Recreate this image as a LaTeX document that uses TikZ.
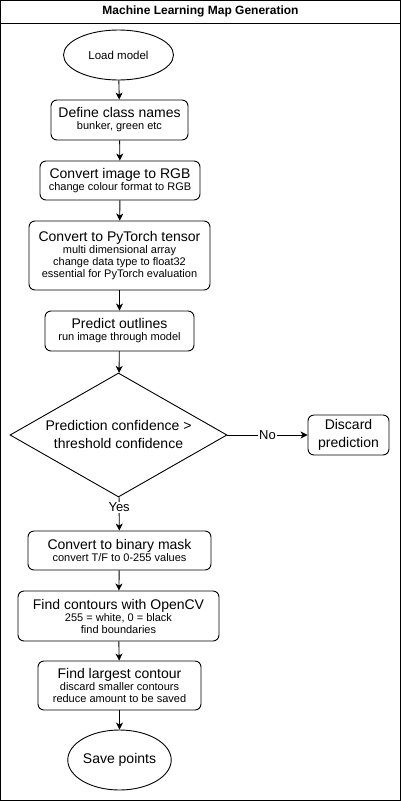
\documentclass[tikz,border=0pt]{standalone}
\usepackage{fontspec}
\setmainfont{Liberation Sans}
\usetikzlibrary{shapes.geometric,arrows.meta}
\newcommand{\hd}[1]{{\fontsize{14}{17}\selectfont #1}}
\newcommand{\sbt}{\fontsize{11}{14}\selectfont}
\begin{document}
\begin{tikzpicture}[x=1pt,y=-1pt,
  box/.style={draw,rounded corners=6pt,line width=0.9pt,align=center,inner sep=0pt},
  oval/.style={draw,ellipse,line width=0.9pt,align=center,inner sep=0pt},
  arr/.style={draw,line width=0.9pt,-{Stealth[length=7pt,width=7pt,inset=2pt]}},
  lbl/.style={fill=white,inner sep=1pt,font=\fontsize{13}{15}\selectfont}]
\useasboundingbox (0,0) rectangle (401,801);
\node[draw,line width=0.9pt,minimum width=400,minimum height=800,inner sep=0] (frame) at (200.5,400.5) {};
\draw[line width=0.9pt] (frame.north west |- 0,23) -- (frame.north east |- 0,23);
\node[font=\bfseries\fontsize{12}{14}\selectfont] (title) at (200.5,11.5) {Machine Learning Map Generation};

\node[oval,minimum width=110,minimum height=50,font=\fontsize{11.5}{14}\selectfont] (load) at (118.5,55) {Load model};
\node[box,minimum width=137,minimum height=40] (define) at (119.5,120) {\hd{Define class names}\\\sbt bunker, green etc};
\node[box,minimum width=160,minimum height=39] (rgb) at (120,180.5) {\hd{Convert image to RGB}\\\sbt change colour format to RGB};
\node[box,minimum width=181,minimum height=69] (torch) at (119.5,255.5) {\hd{Convert to PyTorch tensor}\\\sbt multi dimensional array\\\sbt change data type to float32\\\sbt essential for PyTorch evaluation};
\node[box,minimum width=149,minimum height=40] (predict) at (119.5,331) {\hd{Predict outlines}\\\sbt run image through model};
\node[draw,diamond,line width=0.9pt,minimum width=217,minimum height=124,inner sep=0] (decision) at (118.5,435) {};
\node[align=center,font=\fontsize{14}{18}\selectfont] (dtext) at (118.5,434) {Prediction confidence >\\threshold confidence};
\node[box,minimum width=81,minimum height=40,font=\fontsize{14}{18}\selectfont] (discard) at (348.5,435) {Discard\\prediction};
\node[box,minimum width=183,minimum height=39] (binary) at (119.5,550.5) {\hd{Convert to binary mask}\\\sbt convert T/F to 0-255 values};
\node[box,minimum width=201,minimum height=50] (contours) at (118.5,616) {\hd{Find contours with OpenCV}\\\sbt 255 = white, 0 = black\\\sbt find boundaries};
\node[box,minimum width=163,minimum height=49] (largest) at (119.5,685.5) {\hd{Find largest contour}\\\sbt discard smaller contours\\\sbt reduce amount to be saved};
\node[oval,minimum width=99,minimum height=60,font=\fontsize{14}{17}\selectfont] (save) at (119.5,760) {Save points};

\draw[arr] (load) -- (define);
\draw[arr] (define) -- (rgb);
\draw[arr] (rgb) -- (torch);
\draw[arr] (torch) -- (predict);
\draw[arr] (predict) -- (decision);
\draw[arr] (decision) -- node[lbl] {No} (discard);
\draw[arr] (decision) -- node[lbl,pos=0.3] {Yes} (binary);
\draw[arr] (binary) -- (contours);
\draw[arr] (contours) -- (largest);
\draw[arr] (largest) -- (save);
\end{tikzpicture}
\end{document}
